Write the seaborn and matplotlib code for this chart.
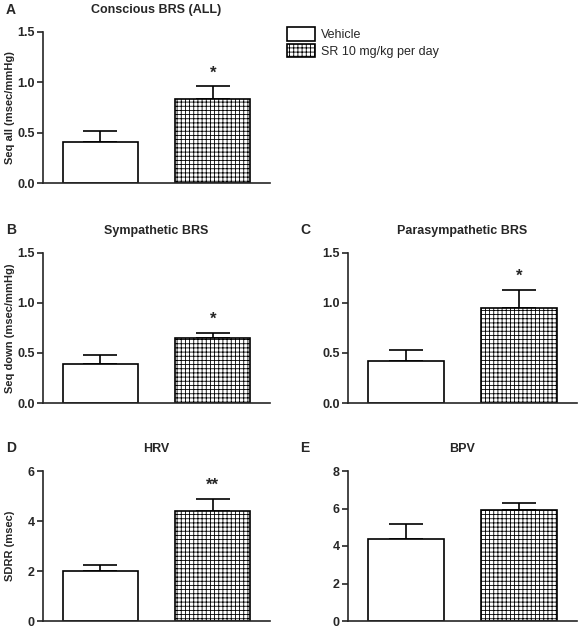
import matplotlib
matplotlib.use("Agg")
import matplotlib.pyplot as plt
import seaborn as sns
import pandas as pd
from matplotlib.patches import Patch

sns.set_style("ticks")
plt.rcParams['font.family'] = ['Liberation Sans', 'DejaVu Sans']
plt.rcParams['hatch.linewidth'] = 0.6

groups = ["Vehicle", "SR 10 mg/kg per day"]
panels = ["A", "B", "C", "D", "E"]
titles = ["Conscious BRS (ALL)", "Sympathetic BRS", "Parasympathetic BRS", "HRV", "BPV"]
ylabels = ["Seq all (msec/mmHg)", "Seq down (msec/mmHg)", "Seq Up (msec/mmHg)", "SDRR (msec)", "SDMAP (mmHg)"]
means = [[0.41, 0.83], [0.39, 0.65], [0.42, 0.95], [2.0, 4.4], [4.4, 5.9]]
sems = [[0.11, 0.13], [0.09, 0.05], [0.11, 0.18], [0.25, 0.47], [0.8, 0.38]]
stars = ["*", "*", "*", "**", ""]
ymax = [1.5, 1.5, 1.5, 6, 8]
yticks = [[0, 0.5, 1.0, 1.5]] * 3 + [[0, 2, 4, 6], [0, 2, 4, 6, 8]]
ytl = [["0.0", "0.5", "1.0", "1.5"]] * 3 + [["0", "2", "4", "6"], ["0", "2", "4", "6", "8"]]

W, H = 579, 631
fig = plt.figure(figsize=(W / 100, H / 100), dpi=100)
boxes = [(43, 32, 270, 183), (43, 253, 270, 403), (348, 253, 577, 403),
         (43, 471, 270, 621), (348, 471, 577, 621)]
letter_pos = [(6, 10), (6, 230), (300, 230), (6, 448), (300, 448)]

for i, (l, t, r, b) in enumerate(boxes):
    ax = fig.add_axes([l / W, 1 - b / H, (r - l) / W, (b - t) / H])
    df = pd.DataFrame({"g": groups, "v": means[i]})
    sns.barplot(data=df, x="g", y="v", ax=ax, color="white", edgecolor="black",
                linewidth=1.2, width=0.67, errorbar=None)
    ax.patches[1].set_hatch("++++")
    ax.errorbar([0, 1], means[i], yerr=[[0, 0], sems[i]], fmt="none",
                ecolor="black", elinewidth=1.2, capsize=12, capthick=1.2, zorder=0)
    for p in ax.patches:
        p.set_zorder(2)
    ax.set_xlim(-0.51, 1.51)
    ax.set_ylim(0, ymax[i])
    ax.set_yticks(yticks[i])
    ax.set_yticklabels(ytl[i], fontsize=9, fontweight="bold")
    ax.set_xticks([])
    ax.set_xlabel("")
    ax.set_ylabel(ylabels[i], fontsize=8, fontweight="bold", labelpad=3)
    ax.yaxis.set_label_coords((10 - l) / (r - l) + (0 if l < 100 else (296 - 10 - (348 - 43)) / (r - l)), 0.5)
    ax.yaxis.label.set_va("center")
    ax.tick_params(axis="y", length=4, width=1.2, pad=2)
    for s in ["left", "bottom"]:
        ax.spines[s].set_linewidth(1.2)
    sns.despine(ax=ax)
    ax.set_title(titles[i], fontsize=9, fontweight="bold", pad=14)
    lx, ly = letter_pos[i]
    fig.text(lx / W, 1 - ly / H, panels[i], fontsize=10, fontweight="bold", va="center")
    if stars[i]:
        ax.text(1, means[i][1] + sems[i][1] + ymax[i] * 0.04, stars[i],
                ha="center", va="bottom", fontsize=12, fontweight="bold")

handles = [Patch(facecolor="white", edgecolor="black", linewidth=1.2),
           Patch(facecolor="white", edgecolor="black", linewidth=1.2, hatch="++++")]
fig.legend(handles, groups, loc="upper left", bbox_to_anchor=(282 / W, 1 - 22 / H),
           frameon=False, fontsize=9, handlelength=2.2, handleheight=1.3,
           handletextpad=0.5, borderaxespad=0, labelspacing=0.2)

fig.savefig("out.png", dpi=100)
